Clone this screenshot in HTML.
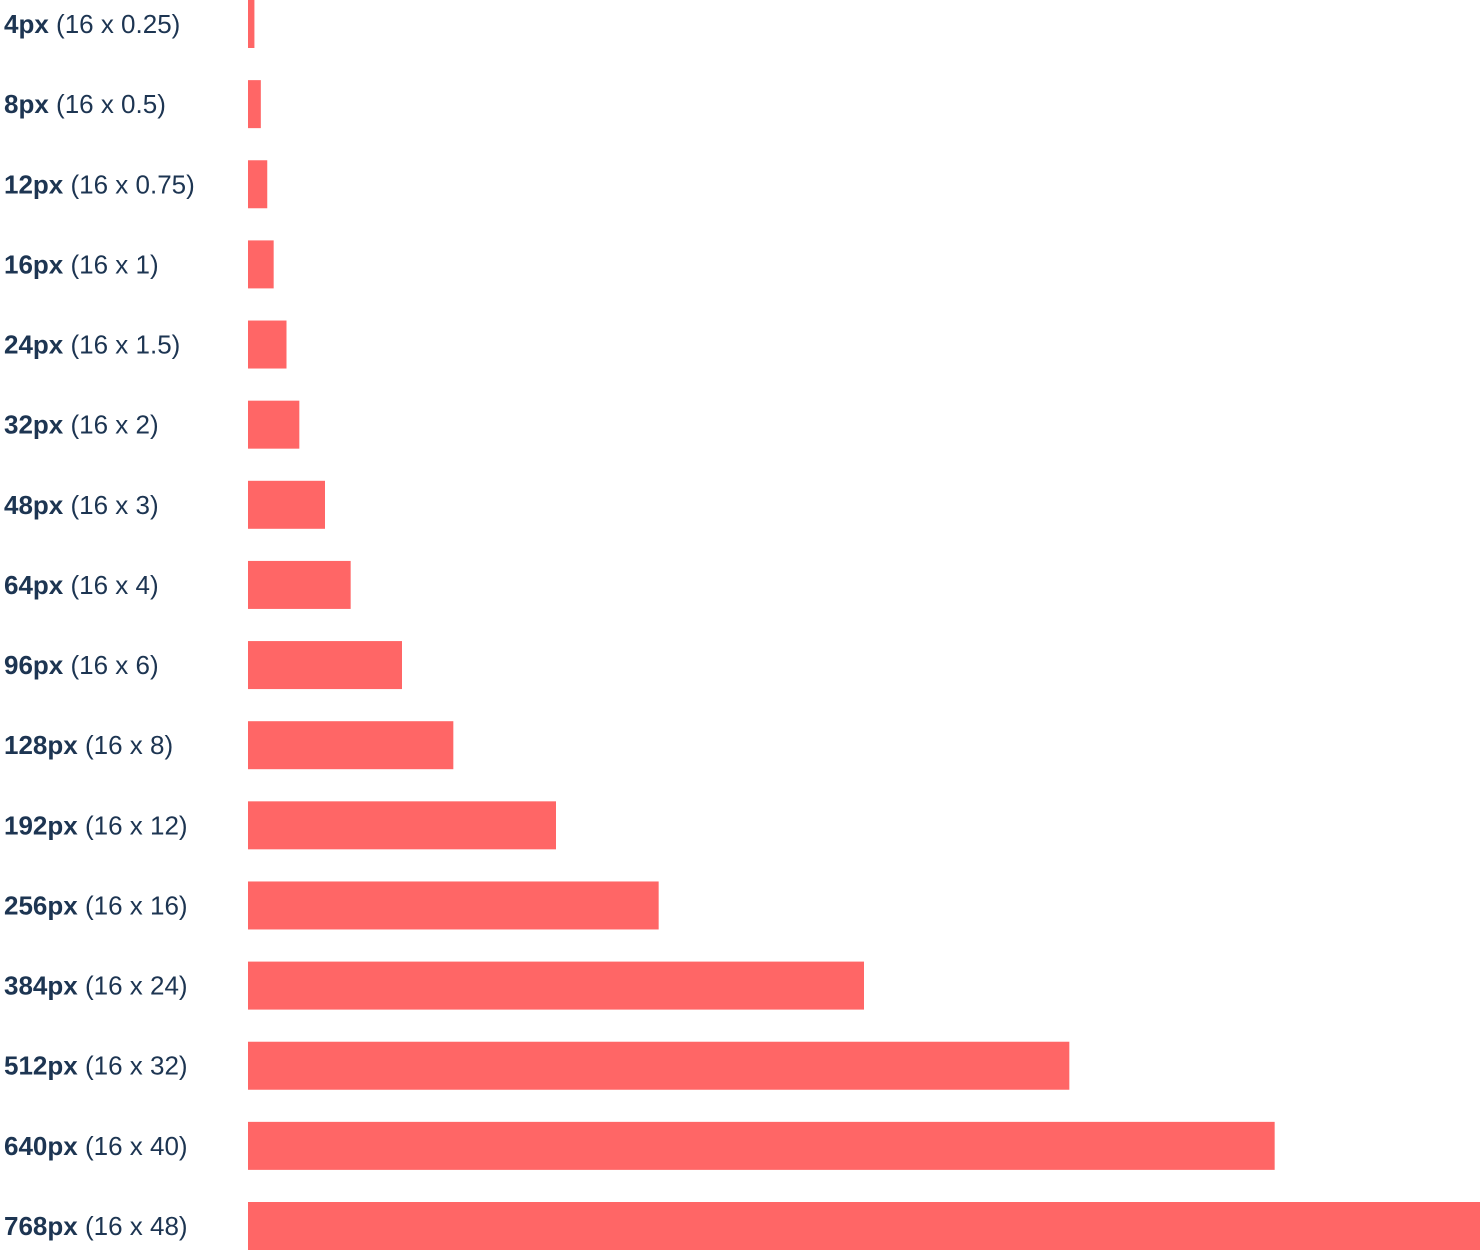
<!DOCTYPE html>
<html><head><meta charset="utf-8"><style>
html,body{margin:0;padding:0;background:#fff;}
svg{display:block}
text{font-family:"Liberation Sans",Arial,sans-serif;font-size:26px;fill:#1d3552;}
</style></head><body>
<svg id="chart" width="1480" height="1250" viewBox="0 0 1480 1250"></svg>
<script>
const pxValues=[4,8,12,16,24,32,48,64,96,128,192,256,384,512,640,768];
const multipliers=["0.25","0.5","0.75","1","1.5","2","3","4","6","8","12","16","24","32","40","48"];
const svg=document.getElementById('chart');
const NS='http://www.w3.org/2000/svg';
const x0=248,xMax=768,xW=1232;
const xScale=v=>v/xMax*xW;
const rowPitch=(1250-48)/(pxValues.length-1);
const yScale=i=>i*rowPitch;
pxValues.forEach((v,i)=>{
  const y=yScale(i);
  const r=document.createElementNS(NS,'rect');
  
  
  r.setAttribute('x',x0);r.setAttribute('y',y);
  r.setAttribute('width',xScale(v));r.setAttribute('height',48);
  r.setAttribute('fill','#ff6666');
  svg.appendChild(r);
  const t=document.createElementNS(NS,'text');
  
  
  t.setAttribute('x',4);t.setAttribute('y',y+33);
  const b=document.createElementNS(NS,'tspan');
  b.setAttribute('font-weight','bold');
  b.textContent=v+'px';
  t.appendChild(b);
  const s=document.createElementNS(NS,'tspan');
  s.textContent=' (16 x '+multipliers[i]+')';
  t.appendChild(s);
  svg.appendChild(t);
});
</script>
</body></html>
